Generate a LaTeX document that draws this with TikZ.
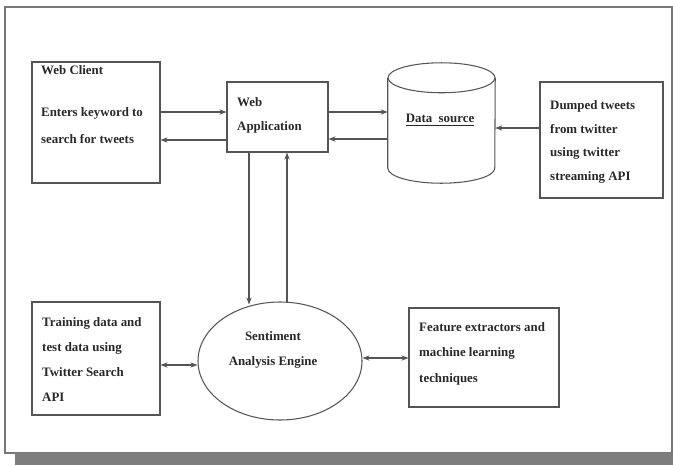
\documentclass[tikz,border=0pt]{standalone}
\usepackage{fontspec}
\setmainfont{Liberation Serif}
\usetikzlibrary{arrows.meta,shapes.geometric,calc}
\definecolor{lineg}{RGB}{85,85,85}
\definecolor{txtg}{RGB}{40,40,40}
\definecolor{barg}{RGB}{125,125,125}
\tikzset{
  box/.style={draw=lineg,line width=0.9pt,inner sep=0pt},
  txt/.style={text=txtg,font=\fontsize{11}{21}\selectfont\bfseries,align=left,inner sep=0pt,anchor=north west},
  conn/.style={draw=lineg,line width=0.9pt,-{Stealth[length=6pt,width=4.5pt]}},
  both/.style={conn,{Stealth[length=6pt,width=4.5pt]}-{Stealth[length=6pt,width=4.5pt]}}
}
\begin{document}
\begin{tikzpicture}[x=0.03cm,y=-0.03cm]
\useasboundingbox (0,0) rectangle (673,465);
% frame and bottom bar
\draw[lineg!80,line width=0.9pt] (5,7) rectangle (672,453);
\fill[barg] (15,453) rectangle (673,465);

% boxes
\node[box,minimum width=128*0.03cm,minimum height=121*0.03cm] (client) at (96,122.5) {};
\node[box,minimum width=101*0.03cm,minimum height=70*0.03cm] (app) at (277.5,117) {};
\node[minimum width=107*0.03cm,minimum height=120*0.03cm,inner sep=0pt] (src) at (441.5,123) {};
\node[box,minimum width=123*0.03cm,minimum height=116*0.03cm] (dumped) at (601.5,140) {};
\node[box,minimum width=128*0.03cm,minimum height=113*0.03cm] (train) at (96,358.5) {};
\node[box,ellipse,minimum width=164*0.03cm,minimum height=118*0.03cm] (engine) at (280,361) {};
\node[box,minimum width=150*0.03cm,minimum height=99*0.03cm] (feature) at (484,357.5) {};

% data source cylinder
\draw[lineg,line width=0.9pt] ($(src.north)+(0,15)$) ellipse [x radius=53.5*0.03cm,y radius=15*0.03cm];
\draw[lineg,line width=0.9pt] ($(src.north west)+(0,15)$) -- ($(src.south west)+(0,-15)$)
  arc [start angle=180,end angle=360,x radius=53.5*0.03cm,y radius=15*0.03cm]
  -- ($(src.north east)+(0,15)$);

% texts
\node[txt,font=\fontsize{11}{23}\selectfont\bfseries] (clienttxt) at (41,65) {Web Client\\[13.5pt]Enters keyword to\\search for tweets};
\node[txt,font=\fontsize{11}{20.4}\selectfont\bfseries] (apptxt) at (237,97) {Web\\Application};
\node[text=txtg,font=\fontsize{11}{13}\selectfont\bfseries,inner sep=0pt] (srctxt) at (440,120) {\underline{Data\enspace source}};
\node[txt,font=\fontsize{11}{20.4}\selectfont\bfseries] (dumpedtxt) at (550,100) {Dumped tweets\\from twitter\\using twitter\\streaming API};
\node[txt,font=\fontsize{11}{21.3}\selectfont\bfseries] (traintxt) at (42,317) {Training data and\\test data using\\Twitter Search\\API};
\node[text=txtg,font=\fontsize{11}{22}\selectfont\bfseries,align=center,inner sep=0pt] (enginetxt) at (273,350) {Sentiment\\Analysis Engine};
\node[txt,font=\fontsize{11}{21.7}\selectfont\bfseries] (featuretxt) at (419,322) {Feature extractors and\\machine learning\\techniques};

% connectors
\draw[conn] ($(client.east)+(0,-10.5)$) -- ($(app.west)+(0,-5)$);
\draw[conn] ($(app.west)+(0,23)$) -- ($(client.east)+(0,17.5)$);
\draw[conn] ($(app.east)+(0,-5)$) -- ($(src.west)+(0,-11)$);
\draw[conn] ($(src.west)+(0,16)$) -- ($(app.east)+(0,22)$);
\draw[conn] ($(dumped.west)+(0,-12)$) -- ($(src.east)+(0,5)$);
\draw[conn] ($(app.south)+(-28.5,0)$) -- ($(engine.north)+(-31,3)$);
\draw[conn] ($(engine.north)+(7,1)$) -- ($(app.south)+(9.5,0)$);
\draw[both] ($(train.east)+(0,6.5)$) -- ($(engine.west)+(0,4)$);
\draw[both] ($(engine.east)+(0,-3)$) -- ($(feature.west)+(0,0.5)$);
\end{tikzpicture}
\end{document}
